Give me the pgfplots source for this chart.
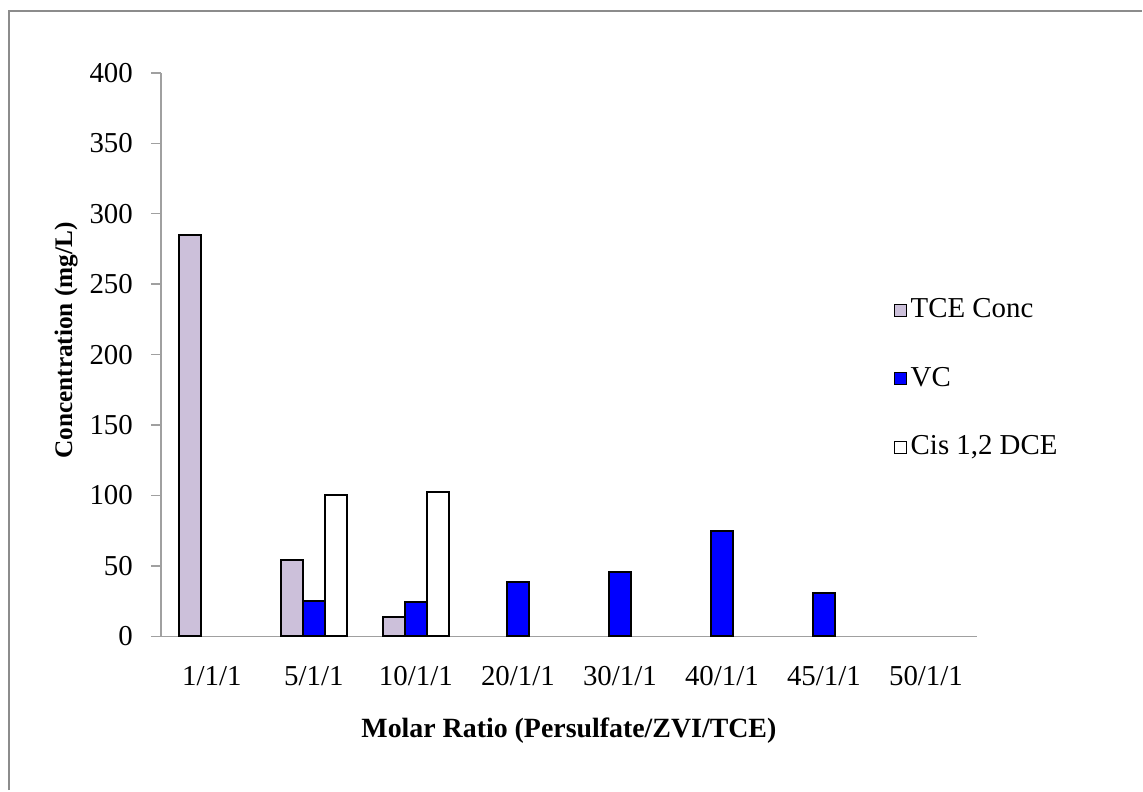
\documentclass[border=0pt]{standalone}
\usepackage{fontspec}
\setmainfont{Liberation Serif}
\usepackage{pgfplots}
\pgfplotsset{compat=1.18}

\definecolor{TceFill}{HTML}{CCC0DA}
\definecolor{VcFill}{HTML}{0000FF}
\definecolor{AxisGray}{HTML}{A0A0A0}
\definecolor{FrameGray}{HTML}{8C8C8C}

\begin{document}
\begin{tikzpicture}
  \fontsize{14.5}{17}\selectfont
  \path (0,0) rectangle (571.5bp,395.5bp);
  \draw[FrameGray, line width=1.2bp] (4.5bp,0) -- (4.5bp,390bp) -- (571.5bp,390bp);
  \begin{axis}[
    at={(80.5bp,77bp)}, anchor=south west,
    scale only axis, width=408.5bp, height=282bp,
    xmin=-0.5, xmax=7.5, ymin=0, ymax=400,
    axis x line*=bottom, axis y line*=left,
    axis line style={AxisGray, line width=0.7bp},
    every tick/.style={AxisGray, line width=0.7bp},
    tick align=outside,
    ytick={0,50,...,400},
    major tick length=5bp,
    xtick={0,...,7},
    xticklabels={1/1/1,5/1/1,10/1/1,20/1/1,30/1/1,40/1/1,45/1/1,50/1/1},
    x tick style={draw=none},
    minor xtick={-0.5,0.5,...,7.5},
    minor x tick style={AxisGray, line width=0.7bp},
    minor tick length=5bp,
    xticklabel style={yshift=-5bp},
    yticklabel style={xshift=-4bp},
    /pgf/number format/assume math mode=true,
    ticklabel style={font=\fontsize{14.5}{17}\selectfont},
    xlabel={\textbf{Molar Ratio (Persulfate/ZVI/TCE)}},
    ylabel={\textbf{Concentration (mg/L)}},
    xlabel style={font=\fontsize{14}{17}\selectfont,
      at={(axis description cs:0.5,-0.168)}, anchor=center},
    ylabel style={font=\fontsize{12.7}{15}\selectfont,
      at={(axis description cs:-0.116,0.525)}, anchor=center},
    ybar, bar width=0.216,
    legend style={at={(0.89,0.614)}, anchor=north west, draw=none, fill=none,
      font=\fontsize{14.5}{17}\selectfont, row sep=18.5bp,
      cells={anchor=west}},
    legend image code/.code={\draw[#1, line width=0.6bp] (0bp,-3bp) rectangle (6bp,3bp);},
  ]
    \addplot[bar shift=-0.216, draw=black, line width=1.1bp, fill=TceFill]
      coordinates {(0,285) (1,54) (2,13.7)};
    \addplot[bar shift=0, draw=black, line width=1.1bp, fill=VcFill]
      coordinates {(1,25) (2,24.3) (3,38.8) (4,45.6) (5,75) (6,30.5)};
    \addplot[bar shift=0.216, draw=black, line width=1.1bp, fill=white]
      coordinates {(1,100.2) (2,102.6)};
    \legend{TCE Conc, VC, {Cis 1,2 DCE}}
  \end{axis}
\end{tikzpicture}
\end{document}
